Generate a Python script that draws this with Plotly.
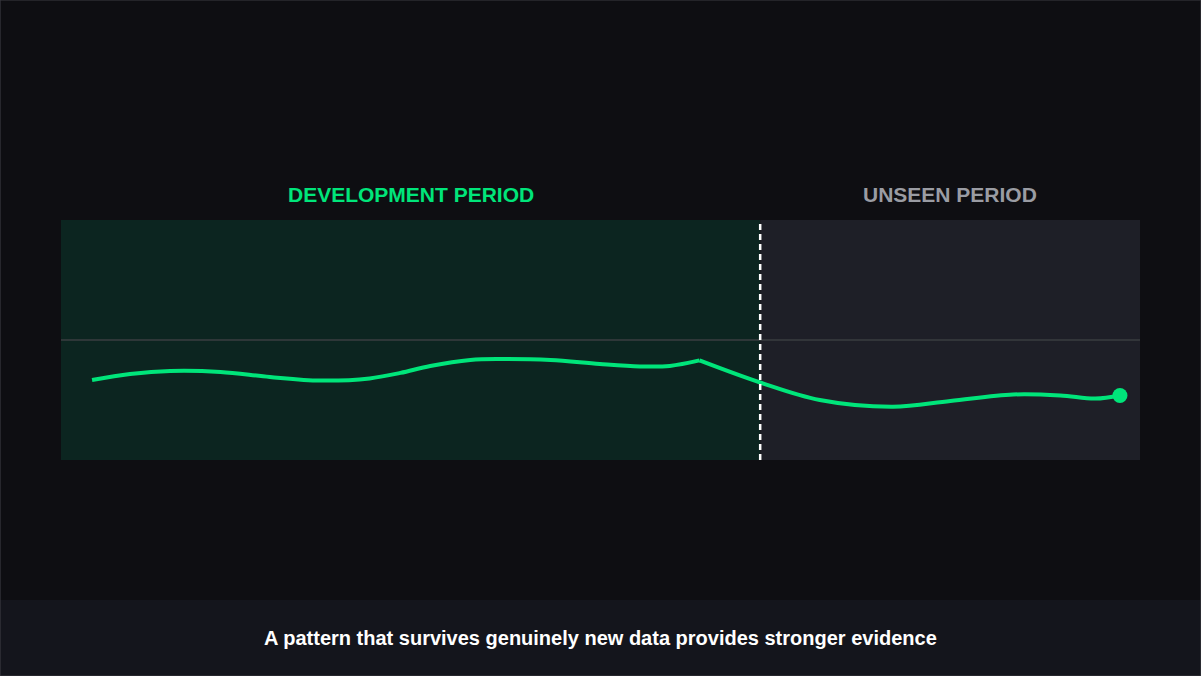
import plotly.graph_objects as go

# ---- data ----
dev_x = [0, 3.7, 7.6, 12.5, 17.3, 22.2, 27.0, 30.0, 32.9, 36.8, 39.7, 44.6, 49.4, 53.3, 56.2, 59.1]
dev_y = [33.3, 35.8, 37.1, 36.7, 34.6, 33.1, 34.0, 36.3, 39.2, 41.7, 42.1, 41.7, 40.0, 39.0, 39.2, 41.5]
unseen_x = [59.1, 65.0, 70.8, 77.9, 83.5, 89.6, 94.2, 97.6, 100]
unseen_y = [41.5, 32.3, 25.0, 22.2, 24.6, 27.3, 26.9, 25.6, 26.9]
split_x = 65
baseline_y = 50
x_range = [-3.02, 101.95]
y_range = [0, 100]
labels = ["DEVELOPMENT PERIOD", "UNSEEN PERIOD"]
caption = "A pattern that survives genuinely new data provides stronger evidence"

GREEN = "#00e57a"
FONT = "Liberation Sans, Arial, sans-serif"
W, H = 1201, 676

fig = go.Figure()
fig.add_trace(go.Scatter(x=dev_x, y=dev_y, mode="lines",
                         line=dict(color=GREEN, width=4, shape="spline", smoothing=1),
                         hoverinfo="skip", showlegend=False))
fig.add_trace(go.Scatter(x=unseen_x, y=unseen_y, mode="lines",
                         line=dict(color=GREEN, width=4, shape="spline", smoothing=1),
                         hoverinfo="skip", showlegend=False))
fig.add_trace(go.Scatter(x=[unseen_x[-1]], y=[unseen_y[-1]], mode="markers",
                         marker=dict(color=GREEN, size=15),
                         hoverinfo="skip", showlegend=False))

shapes = [
    dict(type="rect", xref="x", yref="y", x0=x_range[0], x1=split_x, y0=y_range[0], y1=y_range[1],
         fillcolor="#0c2520", line=dict(width=0), layer="below"),
    dict(type="rect", xref="x", yref="y", x0=split_x, x1=x_range[1], y0=y_range[0], y1=y_range[1],
         fillcolor="#1e1f27", line=dict(width=0), layer="below"),
    dict(type="line", xref="x", yref="y", x0=x_range[0], x1=x_range[1], y0=baseline_y, y1=baseline_y,
         line=dict(color="#3a3e41", width=1.5), layer="below"),
    dict(type="line", xref="x", yref="y", x0=split_x, x1=split_x, y0=y_range[0], y1=y_range[1],
         line=dict(color="#ffffff", width=2.5, dash="6px,4px"), layer="above"),
    dict(type="rect", xref="paper", yref="paper", x0=0, x1=1, y0=0, y1=76 / H,
         fillcolor="#14151c", line=dict(width=0), layer="below"),
    dict(type="rect", xref="paper", yref="paper", x0=0, x1=1, y0=0, y1=1,
         fillcolor="rgba(0,0,0,0)", line=dict(color="#3a3a40", width=1.2), layer="above"),
]

annotations = [
    dict(x=(x_range[0] + split_x) / 2, y=y_range[1], xref="x", yref="y", yshift=26,
         yanchor="middle", text="<b>" + labels[0] + "</b>", showarrow=False,
         font=dict(family=FONT, size=21, color=GREEN)),
    dict(x=(split_x + x_range[1]) / 2, y=y_range[1], xref="x", yref="y", yshift=26,
         yanchor="middle", text="<b>" + labels[1] + "</b>", showarrow=False,
         font=dict(family=FONT, size=21, color="#9a9ca3")),
    dict(x=0.5, y=38 / H, xref="paper", yref="paper", yanchor="middle",
         text="<b>" + caption + "</b>", showarrow=False,
         font=dict(family=FONT, size=20, color="#ffffff")),
]

fig.update_layout(
    width=W, height=H,
    margin=dict(l=0, r=0, t=0, b=0),
    paper_bgcolor="#0e0e12",
    plot_bgcolor="rgba(0,0,0,0)",
    xaxis=dict(domain=[61 / W, 1140 / W], range=x_range, visible=False, fixedrange=True),
    yaxis=dict(domain=[216 / H, 456 / H], range=y_range, visible=False, fixedrange=True),
    shapes=shapes,
    annotations=annotations,
    showlegend=False,
)

fig.write_html("out.html", config={"displayModeBar": False},
               post_script="document.body.style.margin='0';document.body.style.overflow='hidden';document.body.style.background='#0e0e12';")
